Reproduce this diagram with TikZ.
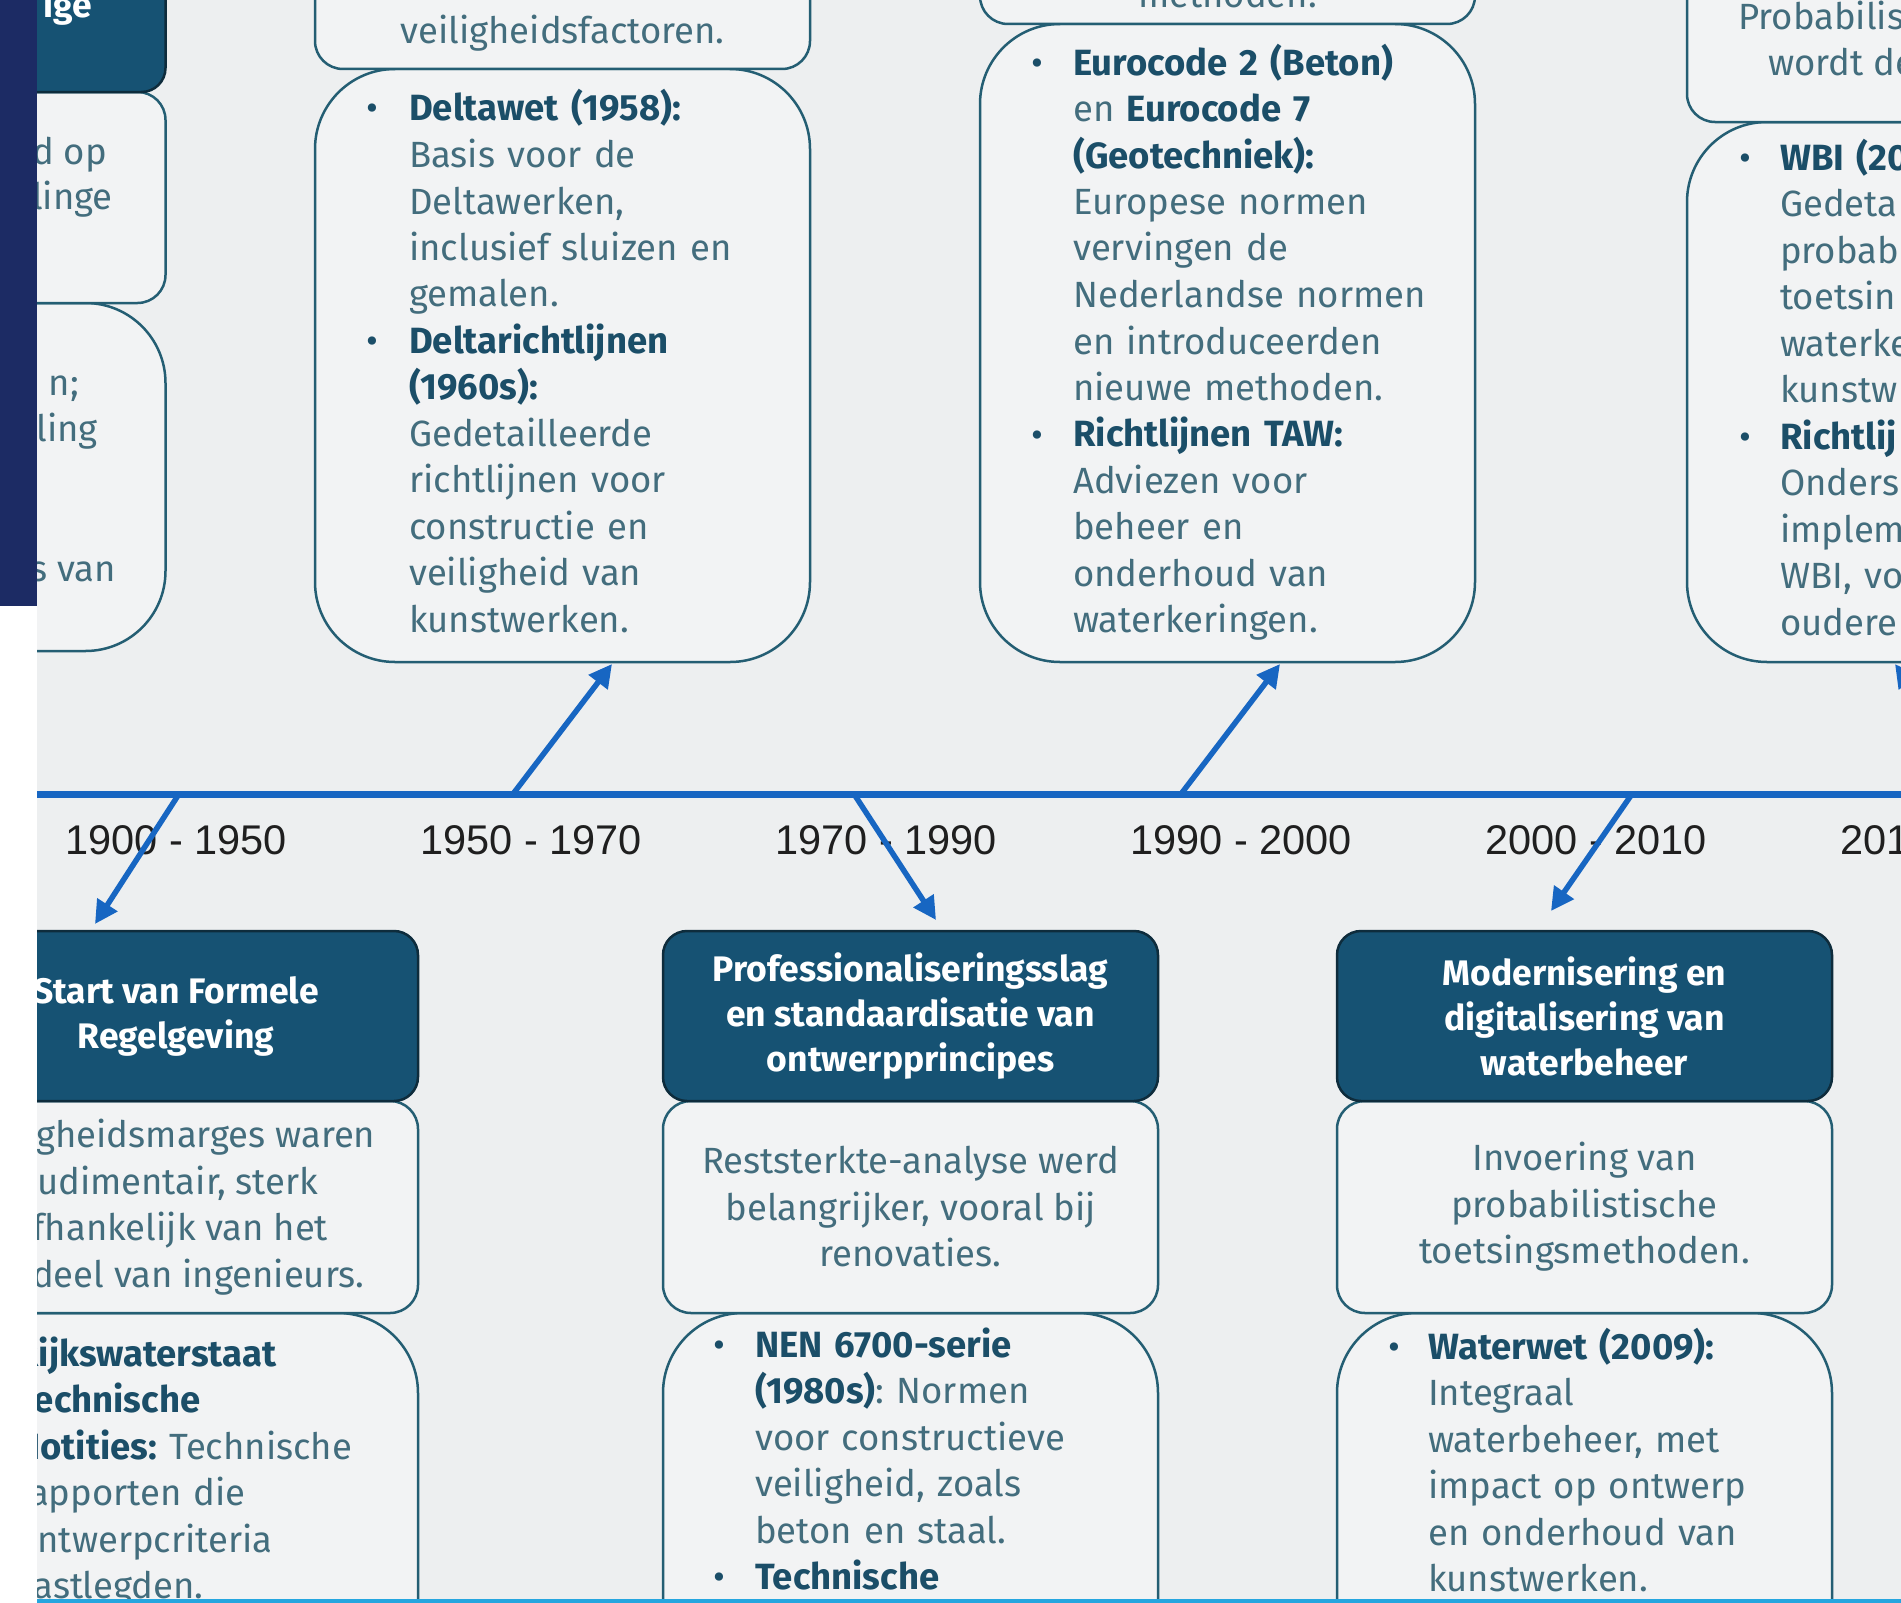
\documentclass[tikz,border=0pt]{standalone}
\usepackage{fontspec}
\setmainfont{Fira Sans}
\newfontfamily\yearfont{Liberation Sans}
\usetikzlibrary{arrows.meta}
\definecolor{bgc}{HTML}{EDEFF0}
\definecolor{boxfill}{HTML}{F2F3F4}
\definecolor{navyband}{HTML}{1C2B64}
\definecolor{hdrfill}{HTML}{165273}
\definecolor{hdrline}{HTML}{0E2C3C}
\definecolor{boxline}{HTML}{245E73}
\definecolor{txtc}{HTML}{436D7D}
\definecolor{txtb}{HTML}{1B4E68}
\definecolor{tlblue}{HTML}{1766C2}
\definecolor{cyanb}{HTML}{26A6DF}
\newcommand\hb[1]{{\bfseries\color{txtb}#1}}
\newcommand\bodysize{\fontsize{36.5}{46.5}\selectfont\frenchspacing}
\newcommand\hdrsize{\fontsize{35.5}{45}\selectfont\bfseries\frenchspacing}
\begin{document}
\begin{tikzpicture}[x=1pt,y=-1pt,
  hdrbox/.style={draw=hdrline,line width=2.5pt,fill=hdrfill,rounded corners=24pt,minimum width=495pt,inner sep=0pt,text=white,font=\hdrsize,align=center},
  bodybox/.style={draw=boxline,line width=2.5pt,fill=boxfill,rounded corners=28pt,minimum width=495pt,inner sep=0pt,text=txtc,font=\bodysize,align=center},
  bigbox/.style={draw=boxline,line width=2.5pt,fill=boxfill,rounded corners=80pt,minimum width=495pt,inner sep=0pt},
  listtxt/.style={anchor=base west,inner sep=0pt,text width=480pt,align=left,text=txtc,font=\bodysize},
  linetxt/.style={inner sep=0pt,text=txtc,font=\bodysize},
  hdrtxt/.style={inner sep=0pt,text=white,font=\hdrsize,align=center},
  bul/.style={anchor=base,inner sep=0pt,text=txtb,font=\bodysize},
  yr/.style={inner sep=0pt,text=black!88,font=\yearfont\fontsize{41.5}{48}\selectfont},
  tline/.style={draw=tlblue,line width=7pt},
  arr/.style={draw=tlblue,line width=5.5pt,-{Triangle[length=23pt,width=23pt]}}]
\useasboundingbox (0,0) rectangle (1901,1603);
\clip (0,0) rectangle (1901,1603);
\fill[bgc] (0,0) rectangle (1901,1603);

% ---------- upper row ----------
% far-left column (1900-1950 upper)
\node[bigbox,minimum height=348pt] (Gb2) at (-82,477) {};
\node[bodybox,minimum height=211pt] (Gb1) at (-82,197.5) {};
\node[hdrbox,minimum height=292pt] (Ghdr) at (-82,-54) {};
\node[hdrtxt,anchor=base east] (Gtxt) at (92,18) {ige};
\node[linetxt,anchor=base east] (Gt1) at (107,164) {d op};
\node[linetxt,anchor=base east] (Gt2) at (113,209) {linge};
\node[linetxt,anchor=base east] (Gt3) at (79,395) {n;};
\node[linetxt,anchor=base east] (Gt4) at (98,441) {ling};
\node[linetxt,anchor=base east] (Gt5) at (116,581) {s van};

% 1950-1970 upper
\node[bigbox,minimum height=593pt] (Dlow) at (562.5,365.5) {};
\node[bodybox,minimum height=269pt] (Dtop) at (562.5,-65.5) {};
\node[linetxt,anchor=base] (Dtoptxt) at (562.5,44) {veiligheidsfactoren.};
\node[bul] (Db1) at (372,121) {•};
\node[bul] (Db2) at (372,353.5) {•};
\node[listtxt] (Dtxt) at (409,121) {\hb{Deltawet (1958):}\\Basis voor de\\Deltawerken,\\inclusief sluizen en\\gemalen.\\\hb{Deltarichtlijnen}\\\hb{(1960s):}\\Gedetailleerde\\richtlijnen voor\\constructie en\\veiligheid van\\kunstwerken.};

% 1990-2000 upper
\node[bigbox,minimum height=638pt] (Elow) at (1227.5,343) {};
\node[bodybox,minimum height=224pt] (Etop) at (1227.5,-88) {};
\node[linetxt,anchor=base] (Etoptxt) at (1227.5,8) {methoden.};
\node[bul] (Eb1) at (1037,75) {•};
\node[bul] (Eb2) at (1037,447) {•};
\node[listtxt] (Etxt) at (1073,75) {\hb{Eurocode 2 (Beton)}\\en \hb{Eurocode 7}\\\hb{(Geotechniek):}\\Europese normen\\vervingen de\\Nederlandse normen\\en introduceerden\\nieuwe methoden.\\\hb{Richtlijnen TAW:}\\Adviezen voor\\beheer en\\onderhoud van\\waterkeringen.};

% 2010-2020 upper (cut at right edge)
\node[bigbox,minimum height=540pt] (Flow) at (1934.5,392) {};
\node[bodybox,minimum height=322pt] (Ftop) at (1934.5,-39) {};
\node[linetxt,anchor=base west] (Ft1) at (1738,30) {Probabilis};
\node[linetxt,anchor=base west] (Ft2) at (1768,76) {wordt de};
\node[bul] (Fb1) at (1745,170) {•};
\node[bul] (Fb2) at (1745,449) {•};
\node[listtxt] (Ftxt) at (1780,170) {\hb{WBI (20}\\Gedeta\\probab\\toetsin\\waterke\\kunstw\\\hb{Richtlij}\\Onders\\implem\\WBI, vo\\oudere};

% ---------- timeline ----------
\coordinate (tl0) at (37,794);
\coordinate (tl1) at (1901,794);
\draw[tline] (tl0) -- (tl1);

\node[yr] (y1) at (176,840) {1900 - 1950};
\node[yr] (y2) at (531,840) {1950 - 1970};
\node[yr] (y3) at (886,840) {1970 - 1990};
\node[yr] (y4) at (1241,840) {1990 - 2000};
\node[yr] (y5) at (1596,840) {2000 - 2010};
\node[yr] (y6) at (1951,840) {2010 - 2020};

% ---------- lower row ----------
% 1900-1950
\node[bigbox,minimum height=437pt] (Ab2) at (170.5,1531.5) {};
\node[bodybox,minimum height=212pt] (Ab1) at (170.5,1207) {Veiligheidsmarges waren\\rudimentair, sterk\\afhankelijk van het\\oordeel van ingenieurs.};
\node[hdrbox,minimum height=170pt] (Ahdr) at (170.5,1016) {};
\node[hdrtxt] (Ahdrtxt) at (176,1016) {Start van Formele\\Regelgeving};
\node[listtxt] (Atxt) at (16,1366) {\hb{Rijkswaterstaat}\\\hb{Technische}\\\hb{Notities:} Technische\\rapporten die\\ontwerpcriteria\\vastlegden.};

% 1970-1990
\node[bigbox,minimum height=437pt] (Bb2) at (910.5,1531.5) {};
\node[bodybox,minimum height=212pt] (Bb1) at (910.5,1207) {Reststerkte-analyse werd\\belangrijker, vooral bij\\renovaties.};
\node[hdrbox,minimum height=170pt] (Bhdr) at (910.5,1016) {Professionaliseringsslag\\en standaardisatie van\\ontwerpprincipes};
\node[bul] (Bbu1) at (719,1357) {•};
\node[bul] (Bbu2) at (719,1589.5) {•};
\node[listtxt] (Btxt) at (755,1357) {\hb{NEN 6700-serie}\\\hb{(1980s)}: Normen\\voor constructieve\\veiligheid, zoals\\beton en staal.\\\hb{Technische}};

% 2000-2010
\node[bigbox,minimum height=437pt] (Cb2) at (1584.5,1531.5) {};
\node[bodybox,minimum height=212pt] (Cb1) at (1584.5,1207) {Invoering van\\probabilistische\\toetsingsmethoden.};
\node[hdrbox,minimum height=170pt] (Chdr) at (1584.5,1016) {Modernisering en\\digitalisering van\\waterbeheer};
\node[bul] (Cbu1) at (1394,1359) {•};
\node[listtxt] (Ctxt) at (1428,1359) {\hb{Waterwet (2009):}\\Integraal\\waterbeheer, met\\impact op ontwerp\\en onderhoud van\\kunstwerken.};

% ---------- arrows ----------
\coordinate (s1) at (179,794);   \coordinate (e1) at (95,924);
\coordinate (s2) at (513,794);   \coordinate (e2) at (612,664);
\coordinate (s3) at (854,794);   \coordinate (e3) at (936,920);
\coordinate (s4) at (1181,794);  \coordinate (e4) at (1280,664);
\coordinate (s5) at (1632,794);  \coordinate (e5) at (1551,911);
\coordinate (s6) at (1990,794);  \coordinate (e6) at (1895,664);
\draw[arr] (s1) -- (e1);
\draw[arr] (s2) -- (e2);
\draw[arr] (s3) -- (e3);
\draw[arr] (s4) -- (e4);
\draw[arr] (s5) -- (e5);
\draw[arr] (s6) -- (e6);

% ---------- frame overlays ----------
\fill[navyband] (0,0) rectangle (37,606);
\fill[white] (0,606) rectangle (37,1603);
\fill[cyanb] (37,1599) rectangle (1901,1603);
\end{tikzpicture}
\end{document}
